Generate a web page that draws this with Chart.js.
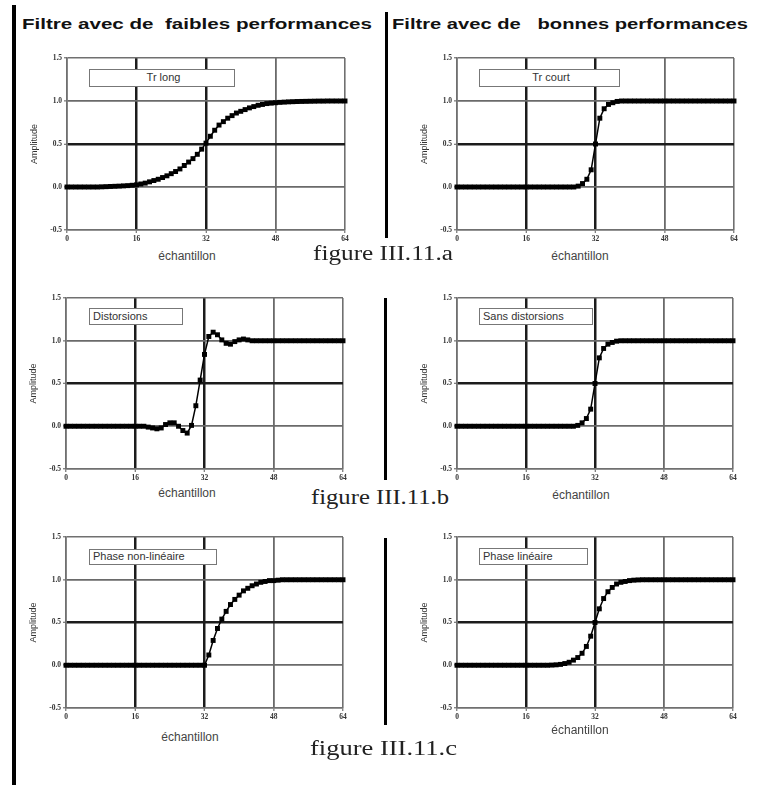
<!DOCTYPE html>
<html>
<head>
<meta charset="utf-8">
<script src="https://cdn.jsdelivr.net/npm/chart.js"></script>
<style>
  body { margin: 0; background: #fff; width: 761px; height: 785px; overflow: hidden; position: relative; font-family: "Liberation Sans", Arial, sans-serif; }
  canvas { position: absolute; }
  .head { position: absolute; font: bold 15px "Liberation Sans", Arial, sans-serif; white-space: pre; color: #111; transform-origin: 0 0; }
  .bar { position: absolute; background: #000; }
  .tag { position: absolute; border: 1.5px solid #777; background: #fff; font: 11px "Liberation Sans", Arial, sans-serif; color: #333; box-sizing: border-box; padding-left: 3px; white-space: nowrap; }
  .fig { position: absolute; font: 20px "Liberation Serif", "DejaVu Serif", serif; color: #222; white-space: pre; transform-origin: 0 0; }
  .xlab { position: absolute; font: 12px "Liberation Sans", Arial, sans-serif; color: #444; transform: translateX(-50%); }
</style>
</head>
<body>
<script>
// sample index, 0..64
const samples = [0,1,2,3,4,5,6,7,8,9,10,11,12,13,14,15,16,17,18,19,20,21,22,23,24,25,26,27,28,29,30,31,32,
  33,34,35,36,37,38,39,40,41,42,43,44,45,46,47,48,49,50,51,52,53,54,55,56,57,58,59,60,61,62,63,64];

// axis ticks
const xTicks = [0, 16, 32, 48, 64];
const yTicks = [-0.5, 0, 0.5, 1, 1.5];
const yTickLabels = ['-0.5', '0.0', '0.5', '1.0', '1.5'];

// step responses
const trLong = [0,0,0,0,0,0,0,0,0.002,0.004,0.006,0.008,0.01,0.013,0.016,0.02,0.025,0.035,0.045,0.06,0.075,0.09,
  0.11,0.13,0.155,0.18,0.21,0.25,0.29,0.33,0.38,0.44,0.51,0.59,0.66,0.72,0.76,0.8,0.83,0.86,0.88,0.9,0.92,0.935,
  0.95,0.96,0.97,0.975,0.98,0.984,0.987,0.99,0.992,0.994,0.995,0.996,0.997,0.998,0.999,0.999,1,1,1,1,1];

const trCourt = [0,0,0,0,0,0,0,0,0,0,0,0,0,0,0,0,0,0,0,0,0,0,0,0,0,0,0,0,0.01,0.04,0.09,0.2,0.5,0.8,0.91,0.96,
  0.98,0.995,1,1,1,1,1,1,1,1,1,1,1,1,1,1,1,1,1,1,1,1,1,1,1,1,1,1,1];

const distorsions = [0,0,0,0,0,0,0,0,0,0,0,0,0,0,0,0,0,0,0,-0.01,-0.02,-0.03,-0.02,0.02,0.04,0.04,0,-0.05,-0.08,
  0.01,0.24,0.54,0.84,1.05,1.1,1.07,1.01,0.97,0.96,0.99,1.01,1.02,1.01,1,1,1,1,1,1,1,1,1,1,1,1,1,1,1,1,1,1,1,1,1,1];

const sansDistorsions = [0,0,0,0,0,0,0,0,0,0,0,0,0,0,0,0,0,0,0,0,0,0,0,0,0,0,0,0,0.01,0.04,0.09,0.2,0.5,0.8,0.91,
  0.96,0.98,0.995,1,1,1,1,1,1,1,1,1,1,1,1,1,1,1,1,1,1,1,1,1,1,1,1,1,1,1];

const phaseNonLineaire = [0,0,0,0,0,0,0,0,0,0,0,0,0,0,0,0,0,0,0,0,0,0,0,0,0,0,0,0,0,0,0,0,0,0.12,0.29,0.43,0.54,
  0.63,0.71,0.77,0.82,0.87,0.9,0.93,0.95,0.97,0.98,0.99,0.99,0.995,1,1,1,1,1,1,1,1,1,1,1,1,1,1,1];

const phaseLineaire = [0,0,0,0,0,0,0,0,0,0,0,0,0,0,0,0,0,0,0,0,0,0,0.002,0.005,0.01,0.02,0.035,0.06,0.09,0.14,0.22,
  0.34,0.5,0.66,0.78,0.86,0.91,0.95,0.97,0.98,0.99,0.995,0.998,1,1,1,1,1,1,1,1,1,1,1,1,1,1,1,1,1,1,1,1,1,1];

// which grid lines are drawn dark
const darkX = [16, 32];
const darkY = [0.5];

// plot-area placement of each panel
const panels = [
  { series: trLong,           L: 66.5, R: 344, T: 58,  B: 230, tag: 'Tr long',            tagBox: [89, 69, 146, 18], center: true,  xlab: [187, 249] },
  { series: trCourt,          L: 456.5, R: 733, T: 58, B: 230, tag: 'Tr court',           tagBox: [479, 69, 141, 18], center: true, xlab: [580, 249] },
  { series: distorsions,      L: 66,  R: 343, T: 298, B: 469, tag: 'Distorsions',        tagBox: [89, 308, 94, 17],  center: false, xlab: [187, 486] },
  { series: sansDistorsions,  L: 457, R: 733, T: 298, B: 469, tag: 'Sans distorsions',   tagBox: [479, 308, 114, 17], center: false, xlab: [581, 488] },
  { series: phaseNonLineaire, L: 66,  R: 343, T: 537, B: 708, tag: 'Phase non-linéaire', tagBox: [89, 549, 128, 16], center: false, xlab: [190, 730] },
  { series: phaseLineaire,    L: 457, R: 733, T: 537, B: 708, tag: 'Phase linéaire',     tagBox: [479, 548, 109, 17], center: false, xlab: [580, 723] }
];

const AXIS_W = 42, PAD_T = 10, PAD_R = 16, XAXIS_H = 16;

function gridStyle(value, dark, ends) {
    if (dark.includes(value)) return { color: '#1c1c1c', width: 2.5 };
    if (ends.includes(value)) return { color: '#707070', width: 1.6 };
    return { color: '#6a6a6a', width: 1.8 };
}

function makeChart(p) {
    const cv = document.createElement('canvas');
    const w = Math.round(p.R - p.L + AXIS_W + PAD_R);
    const h = Math.round(p.B - p.T + PAD_T + XAXIS_H);
    cv.width = w; cv.height = h;
    cv.style.left = (p.L - AXIS_W) + 'px';
    cv.style.top = (p.T - PAD_T) + 'px';
    document.body.appendChild(cv);

    new Chart(cv, {
        type: 'line',
        data: {
            datasets: [{
                data: samples.map((s, i) => ({ x: s, y: p.series[i] })),
                borderColor: '#000',
                borderWidth: 1.5,
                pointStyle: 'rect',
                pointRadius: 3.5,
                pointBackgroundColor: '#000',
                pointBorderColor: '#000',
                pointBorderWidth: 0,
                tension: 0,
                clip: false
            }]
        },
        options: {
            responsive: false,
            animation: false,
            devicePixelRatio: 1,
            layout: { padding: { left: 0, top: PAD_T, right: PAD_R, bottom: 0 } },
            plugins: { legend: { display: false }, tooltip: { enabled: false } },
            scales: {
                x: {
                    type: 'linear', min: 0, max: 64,
                    afterBuildTicks: s => { s.ticks = xTicks.map(v => ({ value: v })); },
                    afterFit: s => { s.height = XAXIS_H; },
                    grid: {
                        color: c => gridStyle(c.tick.value, darkX, [0, 64]).color,
                        lineWidth: c => gridStyle(c.tick.value, darkX, [0, 64]).width,
                        tickLength: 3, tickColor: '#555', tickWidth: 1
                    },
                    border: { color: '#707070', width: 1.6 },
                    ticks: { font: { size: 7.5, family: 'Liberation Serif', weight: 'bold' }, color: '#333', padding: 2, maxRotation: 0 }
                },
                y: {
                    min: -0.5, max: 1.5,
                    afterBuildTicks: s => { s.ticks = yTicks.map(v => ({ value: v })); },
                    afterFit: s => { s.width = AXIS_W; },
                    grid: {
                        color: c => gridStyle(c.tick.value, darkY, [-0.5, 1.5]).color,
                        lineWidth: c => gridStyle(c.tick.value, darkY, [-0.5, 1.5]).width,
                        tickLength: 3, tickColor: '#555', tickWidth: 1
                    },
                    border: { color: '#707070', width: 1.6 },
                    title: { display: true, text: 'Amplitude', font: { size: 9, family: 'Liberation Sans' }, color: '#333', padding: { top: 4, bottom: 0 } },
                    ticks: {
                        font: { size: 7.5, family: 'Liberation Serif', weight: 'bold' }, color: '#333', padding: 2,
                        callback: v => yTickLabels[yTicks.indexOf(v)]
                    }
                }
            }
        }
    });

    const tag = document.createElement('div');
    tag.className = 'tag';
    tag.textContent = p.tag;
    const [tx, ty, tw, th] = p.tagBox;
    Object.assign(tag.style, { left: tx + 'px', top: ty + 'px', width: tw + 'px', height: th + 'px', lineHeight: (th - 3) + 'px', textAlign: p.center ? 'center' : 'left' });
    document.body.appendChild(tag);

    const xl = document.createElement('div');
    xl.className = 'xlab';
    xl.textContent = 'échantillon';
    xl.style.left = p.xlab[0] + 'px';
    xl.style.top = p.xlab[1] + 'px';
    document.body.appendChild(xl);
}

panels.forEach(makeChart);

// headings, captions and separator bars
function addText(cls, text, x, y, width) {
    const el = document.createElement('div');
    el.className = cls;
    el.textContent = text;
    el.style.left = x + 'px';
    el.style.top = y + 'px';
    document.body.appendChild(el);
    const k = width / el.getBoundingClientRect().width;
    el.style.transform = 'scaleX(' + k + ')';
}
addText('head', 'Filtre avec de  faibles performances', 22, 15, 350);
addText('head', 'Filtre avec de   bonnes performances', 392, 15, 356);
addText('fig', 'figure III.11.a', 313, 242, 140);
addText('fig', 'figure III.11.b', 311, 486, 138);
addText('fig', 'figure III.11.c', 310, 737, 147);

[[12, 5, 3.5, 780], [385, 12, 3, 226], [384, 298, 3, 182], [384, 538, 3, 187]].forEach(b => {
    const el = document.createElement('div');
    el.className = 'bar';
    Object.assign(el.style, { left: b[0] + 'px', top: b[1] + 'px', width: b[2] + 'px', height: b[3] + 'px' });
    document.body.appendChild(el);
});
</script>
</body>
</html>
